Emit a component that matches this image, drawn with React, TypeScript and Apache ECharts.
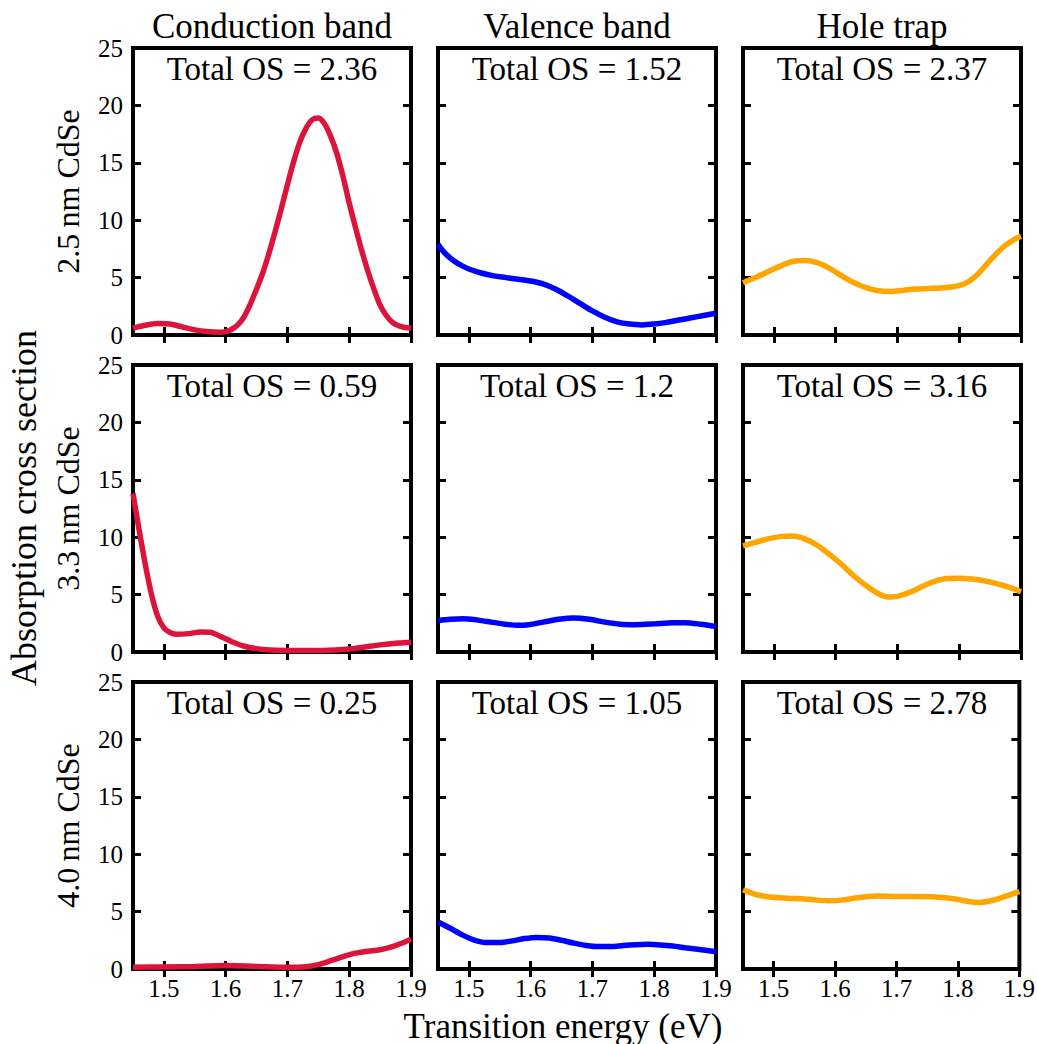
import React, { useEffect, useRef } from "react";
import * as echarts from "echarts";

// Panel labels
const columnTitles = ["Conduction band", "Valence band", "Hole trap"];
const rowLabels = ["2.5\u2009nm CdSe", "3.3\u2009nm CdSe", "4.0\u2009nm CdSe"];
const lineColors = ["#DC143C", "#0000FF", "#FFA500"];
const totalOS = [
  ["2.36", "1.52", "2.37"],
  ["0.59", "1.2", "3.16"],
  ["0.25", "1.05", "2.78"],
];
const energyTicks = [1.5, 1.6, 1.7, 1.8, 1.9];
const energyMin = 1.45;
const energyMax = 1.9;
const crossMax = 25;
const crossStep = 5;

// Absorption cross section vs transition energy (eV), 2.5 nm CdSe
const cb25 = [
  [1.45, 0.6], [1.47, 0.85], [1.49, 1.0], [1.51, 0.95], [1.53, 0.7], [1.55, 0.45],
  [1.57, 0.3], [1.59, 0.25], [1.6, 0.3], [1.61, 0.5], [1.62, 0.9], [1.63, 1.6],
  [1.64, 2.7], [1.65, 4.0], [1.66, 5.4], [1.67, 7.1], [1.68, 9.0], [1.69, 11.0],
  [1.7, 13.1], [1.71, 15.1], [1.72, 16.8], [1.73, 18.0], [1.74, 18.75], [1.75, 18.9],
  [1.76, 18.4], [1.77, 17.3], [1.78, 15.8], [1.79, 13.8], [1.8, 11.5], [1.81, 9.4],
  [1.82, 7.4], [1.83, 5.6], [1.84, 4.0], [1.85, 2.6], [1.86, 1.7], [1.87, 1.1],
  [1.88, 0.8], [1.89, 0.65], [1.9, 0.6],
];
const vb25 = [
  [1.45, 7.9], [1.46, 7.2], [1.47, 6.7], [1.48, 6.3], [1.49, 6.0], [1.5, 5.75],
  [1.52, 5.4], [1.54, 5.15], [1.56, 5.0], [1.58, 4.85], [1.6, 4.7], [1.62, 4.45],
  [1.64, 4.0], [1.66, 3.4], [1.68, 2.75], [1.7, 2.1], [1.72, 1.55], [1.74, 1.15],
  [1.76, 0.95], [1.78, 0.88], [1.8, 0.95], [1.82, 1.1], [1.84, 1.3], [1.86, 1.5],
  [1.88, 1.7], [1.9, 1.9],
];
const ht25 = [
  [1.45, 4.55], [1.47, 5.0], [1.49, 5.5], [1.51, 6.0], [1.53, 6.4], [1.55, 6.5],
  [1.57, 6.3], [1.59, 5.8], [1.61, 5.15], [1.63, 4.55], [1.65, 4.1], [1.67, 3.85],
  [1.69, 3.8], [1.71, 3.9], [1.73, 4.0], [1.75, 4.05], [1.77, 4.1], [1.79, 4.2],
  [1.81, 4.5], [1.83, 5.3], [1.85, 6.5], [1.87, 7.6], [1.89, 8.35], [1.9, 8.6],
];

// 3.3 nm CdSe
const cb33 = [
  [1.45, 13.8], [1.46, 10.6], [1.47, 7.6], [1.48, 5.0], [1.49, 3.1], [1.5, 2.1],
  [1.51, 1.7], [1.52, 1.55], [1.54, 1.6], [1.56, 1.75], [1.575, 1.72], [1.59, 1.4],
  [1.61, 0.9], [1.63, 0.5], [1.66, 0.22], [1.7, 0.12], [1.75, 0.12], [1.79, 0.22],
  [1.82, 0.4], [1.85, 0.62], [1.88, 0.78], [1.9, 0.85],
];
const vb33 = [
  [1.45, 2.75], [1.47, 2.85], [1.49, 2.9], [1.51, 2.82], [1.53, 2.65], [1.555, 2.45],
  [1.58, 2.32], [1.6, 2.4], [1.62, 2.6], [1.645, 2.85], [1.67, 2.97], [1.695, 2.85],
  [1.72, 2.6], [1.745, 2.42], [1.77, 2.38], [1.8, 2.45], [1.83, 2.55], [1.85, 2.55],
  [1.875, 2.42], [1.9, 2.22],
];
const ht33 = [
  [1.45, 9.25], [1.47, 9.55], [1.49, 9.85], [1.51, 10.05], [1.53, 10.1], [1.55, 9.85],
  [1.57, 9.3], [1.59, 8.5], [1.61, 7.6], [1.63, 6.6], [1.65, 5.75], [1.67, 5.05],
  [1.685, 4.8], [1.7, 4.85], [1.72, 5.2], [1.74, 5.7], [1.76, 6.15], [1.78, 6.4],
  [1.8, 6.42], [1.82, 6.35], [1.84, 6.2], [1.86, 5.95], [1.88, 5.65], [1.9, 5.25],
];

// 4.0 nm CdSe
const cb40 = [
  [1.45, 0.15], [1.5, 0.18], [1.55, 0.22], [1.6, 0.3], [1.65, 0.22], [1.7, 0.15],
  [1.73, 0.2], [1.75, 0.38], [1.77, 0.72], [1.79, 1.08], [1.81, 1.38], [1.83, 1.55],
  [1.85, 1.68], [1.87, 1.95], [1.89, 2.35], [1.9, 2.6],
];
const vb40 = [
  [1.45, 4.1], [1.47, 3.55], [1.49, 2.95], [1.51, 2.5], [1.53, 2.3], [1.55, 2.3],
  [1.57, 2.45], [1.59, 2.65], [1.61, 2.75], [1.63, 2.7], [1.65, 2.5], [1.67, 2.25],
  [1.69, 2.05], [1.71, 1.95], [1.73, 1.95], [1.75, 2.05], [1.77, 2.12], [1.79, 2.15],
  [1.81, 2.1], [1.83, 2.0], [1.85, 1.85], [1.87, 1.72], [1.9, 1.5],
];
const ht40 = [
  [1.45, 6.9], [1.47, 6.5], [1.49, 6.3], [1.51, 6.2], [1.53, 6.15], [1.55, 6.1],
  [1.57, 6.0], [1.59, 5.95], [1.61, 6.0], [1.63, 6.15], [1.65, 6.3], [1.67, 6.35],
  [1.7, 6.32], [1.73, 6.32], [1.76, 6.3], [1.78, 6.2], [1.8, 6.05], [1.82, 5.85],
  [1.835, 5.8], [1.85, 5.9], [1.87, 6.2], [1.9, 6.75],
];

const panelData = [
  [cb25, vb25, ht25],
  [cb33, vb33, ht33],
  [cb40, vb40, ht40],
];

const FONT = "Liberation Serif";
const colLeft = [133, 438, 743];
const rowTop = [48, 365, 682];
const panelW = 278;
const panelH = 287;

function label(text: string, x: number, y: number, size: number, rotation = 0) {
  return {
    type: "text",
    x,
    y,
    rotation,
    style: {
      text,
      fontFamily: FONT,
      fontSize: size,
      fill: "#000",
      align: "center",
      verticalAlign: "middle",
    },
  };
}

function buildOption() {
  const grid: any[] = [];
  const xAxis: any[] = [];
  const yAxis: any[] = [];
  const series: any[] = [];
  const graphic: any[] = [];

  const tick = {
    show: true,
    inside: true,
    length: 8,
    lineStyle: { color: "#000", width: 3 },
  };

  for (let r = 0; r < 3; r++) {
    for (let c = 0; c < 3; c++) {
      const idx = r * 3 + c;
      grid.push({
        left: colLeft[c],
        top: rowTop[r],
        width: panelW,
        height: panelH,
        show: true,
        borderColor: "#000",
        borderWidth: 4,
        backgroundColor: "transparent",
      });
      const xBase = {
        gridIndex: idx,
        type: "value",
        min: energyMin,
        max: energyMax,
        axisLine: { show: false },
        splitLine: { show: false },
      };
      xAxis.push({
        ...xBase,
        position: "bottom",
        axisTick: { ...tick, customValues: energyTicks },
        axisLabel: {
          show: r === 2,
          customValues: energyTicks,
          formatter: (v: number) => v.toFixed(1),
          fontFamily: FONT,
          fontSize: 25,
          color: "#000",
          margin: 7,
        },
      });
      xAxis.push({
        ...xBase,
        position: "top",
        axisTick: { ...tick, customValues: energyTicks },
        axisLabel: { show: false },
      });
      const yBase = {
        gridIndex: idx,
        type: "value",
        min: 0,
        max: crossMax,
        interval: crossStep,
        axisLine: { show: false },
        splitLine: { show: false },
        axisTick: tick,
      };
      yAxis.push({
        ...yBase,
        position: "left",
        axisLabel: {
          show: c === 0,
          fontFamily: FONT,
          fontSize: 25,
          color: "#000",
          margin: 10,
        },
      });
      yAxis.push({ ...yBase, position: "right", axisLabel: { show: false } });

      series.push({
        type: "line",
        xAxisIndex: idx * 2,
        yAxisIndex: idx * 2,
        data: panelData[r][c],
        showSymbol: false,
        smooth: 0.3,
        lineStyle: { color: lineColors[c], width: 5.5 },
        z: 1,
      });

      graphic.push(
        label("Total OS = " + totalOS[r][c], colLeft[c] + panelW / 2, rowTop[r] + 21, 33)
      );
    }
  }

  columnTitles.forEach((t, c) => {
    graphic.push(label(t, colLeft[c] + panelW / 2, 26, 35));
  });

  rowLabels.forEach((t, r) => {
    graphic.push(label(t, 68, rowTop[r] + panelH / 2, 32, Math.PI / 2));
  });

  graphic.push(label("Absorption cross section", 24, 508, 36, Math.PI / 2));
  graphic.push(label("Transition energy (eV)", 563, 1026, 35));

  return {
    animation: false,
    backgroundColor: "#fff",
    grid,
    xAxis,
    yAxis,
    series,
    graphic,
  };
}

export default function App() {
  const ref = useRef<HTMLDivElement>(null);
  useEffect(() => {
    if (!ref.current) return;
    const chart = echarts.init(ref.current, undefined, { renderer: "svg" });
    chart.setOption(buildOption() as any);
    return () => chart.dispose();
  }, []);
  return (
    <div
      ref={ref}
      style={{ position: "fixed", left: 0, top: 0, width: 1038, height: 1044, background: "#fff" }}
    />
  );
}
